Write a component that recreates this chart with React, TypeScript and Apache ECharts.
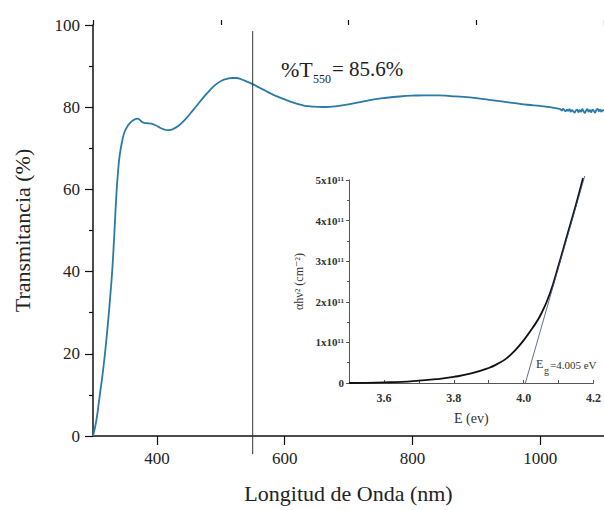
import React, { useEffect, useRef } from "react";
import * as echarts from "echarts";

// Main spectrum: wavelength (nm) vs transmittance (%)
const wavelength = [
  300, 303, 306, 309, 312, 315, 318, 321, 324, 327, 330, 333, 336, 339, 342, 346, 350, 355, 360, 365, 370,
  374, 378, 384, 391, 398, 405, 411, 416, 422, 428, 435, 443, 452, 462, 472, 482, 492, 502, 510, 518,
  525, 532, 540, 550, 560, 570, 580, 590, 600, 610, 620, 630, 640, 650, 660, 670, 685, 700, 720, 740,
  760, 780, 800, 820, 840, 860, 880, 900, 920, 940, 960, 980, 1000, 1015, 1030,
  1032, 1034, 1036, 1038, 1040, 1042, 1044, 1046, 1048, 1050, 1052, 1054, 1056, 1058, 1060, 1062,
  1064, 1066, 1068, 1070, 1072, 1074, 1076, 1078, 1080, 1082, 1084, 1086, 1088, 1090, 1092, 1094,
  1096, 1098, 1100,
];
const transmittance = [
  0, 2, 4.5, 8, 11.5, 15, 19, 23.5, 28.5, 34, 40, 48, 57, 64, 68.5, 72, 74.2, 75.6, 76.5, 77.0, 77.2,
  76.8, 76.3, 76.1, 76.0, 75.6, 75.0, 74.6, 74.4, 74.5, 74.9, 75.6, 76.8, 78.4, 80.3, 82.2, 84.0, 85.5, 86.5, 86.9, 87.1,
  87.1, 86.8, 86.3, 85.6, 84.8, 84.0, 83.2, 82.5, 81.9, 81.3, 80.8, 80.4, 80.2, 80.1, 80.05, 80.1, 80.3, 80.7, 81.3, 81.9,
  82.3, 82.6, 82.8, 82.9, 82.9, 82.7, 82.5, 82.2, 81.8, 81.4, 81.0, 80.6, 80.3, 80.0, 79.6,
  79.5, 79.2, 79.6, 79.3, 79.0, 79.4, 79.1, 79.5, 78.9, 79.3, 79.0, 78.7, 79.2, 79.4, 78.8, 79.3,
  78.9, 79.5, 79.0, 78.6, 79.2, 79.5, 78.9, 79.3, 78.8, 79.4, 79.1, 78.7, 79.3, 79.6, 79.0, 79.4,
  78.9, 79.3, 79.1,
];
const markerWavelength = [550, 550];
const markerSpan = [98.5, -4.4];

const xMajorTicks = [400, 600, 800, 1000];
const xMinorTicks = [300, 500, 700, 900, 1100];

// Inset: Tauc plot
const energy = [3.5, 3.55, 3.6, 3.65, 3.7, 3.75, 3.8, 3.85, 3.9, 3.925, 3.95, 3.975, 4.0, 4.025, 4.05, 4.075, 4.1, 4.125, 4.15, 4.17];
const tauc = [0.0, 0.005, 0.015, 0.03, 0.06, 0.095, 0.15, 0.235, 0.37, 0.47, 0.6, 0.8, 1.05, 1.35, 1.7, 2.2, 2.9, 3.65, 4.4, 5.05];
const fitEnergy = [4.005, 4.175];
const fitValue = [0, 5.1];
const insetXLabels = [3.6, 3.8, 4.0, 4.2];

const SERIF = "'Liberation Serif', 'DejaVu Serif', serif";

export default function App() {
  const ref = useRef<HTMLDivElement>(null);
  useEffect(() => {
    if (!ref.current) return;
    const chart = echarts.init(ref.current, undefined, { renderer: "svg" });
    const option: any = {
      animation: false,
      backgroundColor: "#ffffff",
      textStyle: { fontFamily: SERIF },
      grid: [
        { left: 93, top: 25, width: 512, height: 411 },
        { left: 349, top: 180, width: 246, height: 203 },
      ],
      xAxis: [
        {
          type: "value", gridIndex: 0, min: 300, max: 1100,
          axisLine: { lineStyle: { color: "#111", width: 1.5 } },
          axisTick: { customValues: xMajorTicks, length: 9, lineStyle: { color: "#111", width: 1.2 } },
          axisLabel: {
            customValues: xMajorTicks, margin: 14, fontSize: 17, color: "#222", fontFamily: SERIF,
            formatter: (v: number) => String(v),
          },
          splitLine: { show: false },
          name: "Longitud de Onda (nm)", nameLocation: "middle", nameGap: 46,
          nameTextStyle: { fontSize: 22, color: "#222", fontFamily: SERIF },
        },
        {
          type: "value", gridIndex: 0, min: 300, max: 1100,
          axisLine: { show: false },
          axisTick: { customValues: xMinorTicks, length: 5, lineStyle: { color: "#111", width: 1.2 } },
          axisLabel: { show: false },
          splitLine: { show: false },
        },
        {
          type: "value", gridIndex: 1, min: 3.5, max: 4.2, interval: 0.1,
          axisLine: { lineStyle: { color: "#555", width: 1 } },
          axisTick: { inside: true, length: 3, lineStyle: { color: "#555" } },
          axisLabel: {
            customValues: insetXLabels, margin: 9, fontSize: 12, fontWeight: "bold", color: "#333", fontFamily: SERIF,
            formatter: (v: number) => v.toFixed(1),
          },
          splitLine: { show: false },
          name: "E (ev)", nameLocation: "middle", nameGap: 28,
          nameTextStyle: { fontSize: 14, color: "#333", fontFamily: SERIF },
        },
      ],
      yAxis: [
        {
          type: "value", gridIndex: 0, min: 0, max: 100, interval: 20,
          axisLine: { show: true, lineStyle: { color: "#111", width: 1.5 } },
          axisTick: { show: true, length: 8, lineStyle: { color: "#111", width: 1.2 } },
          minorTick: { show: true, splitNumber: 2, length: 4, lineStyle: { color: "#111", width: 1.2 } },
          axisLabel: { margin: 13, fontSize: 17, color: "#222", fontFamily: SERIF },
          splitLine: { show: false },
          name: "Transmitancia (%)", nameLocation: "middle", nameGap: 60,
          nameTextStyle: { fontSize: 22, color: "#222", fontFamily: SERIF },
        },
        {
          type: "value", gridIndex: 1, min: 0, max: 5, interval: 1,
          axisLine: { show: true, lineStyle: { color: "#555", width: 1 } },
          axisTick: { show: true, length: 3, lineStyle: { color: "#555" } },
          minorTick: { show: true, splitNumber: 2, length: 2, lineStyle: { color: "#555" } },
          axisLabel: {
            margin: 5, fontSize: 11, fontWeight: "bold", color: "#333", fontFamily: SERIF,
            formatter: (v: number) => (v === 0 ? "0" : v + "x10\u00b9\u00b9"),
          },
          splitLine: { show: false },
          name: "\u03b1h\u03bd\u00b2 (cm\u207b\u00b2)", nameLocation: "middle", nameGap: 44,
          nameTextStyle: { fontSize: 12, color: "#333", fontFamily: SERIF },
        },
      ],
      series: [
        {
          type: "line", xAxisIndex: 0, yAxisIndex: 0, showSymbol: false, smooth: 0.5,
          data: wavelength.map((w, i) => [w, transmittance[i]]),
          lineStyle: { color: "#2a7aa6", width: 1.8 },
        },
        {
          type: "line", xAxisIndex: 0, yAxisIndex: 0, showSymbol: false, clip: false,
          data: markerWavelength.map((w, i) => [w, markerSpan[i]]),
          lineStyle: { color: "#333", width: 1 },
        },
        {
          type: "line", xAxisIndex: 2, yAxisIndex: 1, showSymbol: false, smooth: 0.5, clip: false,
          data: energy.map((e, i) => [e, tauc[i]]),
          lineStyle: { color: "#111", width: 1.8 },
        },
        {
          type: "line", xAxisIndex: 2, yAxisIndex: 1, showSymbol: false, clip: false,
          data: fitEnergy.map((e, i) => [e, fitValue[i]]),
          lineStyle: { color: "#3a4a7a", width: 0.8 },
        },
      ],
      graphic: [
        { type: "text", left: 281, top: 58, style: { text: "%T", fontSize: 22, fontFamily: SERIF, fill: "#222" } },
        { type: "text", left: 313, top: 73, style: { text: "550", fontSize: 12, fontFamily: SERIF, fill: "#222" } },
        { type: "text", left: 332, top: 58, style: { text: "= 85.6%", fontSize: 21, fontFamily: SERIF, fill: "#222" } },
        { type: "text", left: 536, top: 358, style: { text: "E", fontSize: 12, fontFamily: SERIF, fill: "#333" } },
        { type: "text", left: 544, top: 365, style: { text: "g", fontSize: 10, fontFamily: SERIF, fill: "#333" } },
        { type: "text", left: 550, top: 359, style: { text: "=4.005 eV", fontSize: 11, fontFamily: SERIF, fill: "#333" } },
      ],
    };
    chart.setOption(option);
    return () => chart.dispose();
  }, []);
  return <div ref={ref} style={{ width: 604, height: 510, position: "absolute", left: 0, top: 0 }} />;
}
